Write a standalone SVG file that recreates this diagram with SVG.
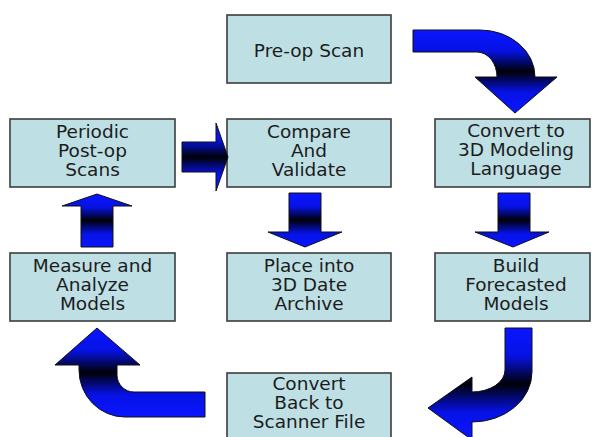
<svg xmlns="http://www.w3.org/2000/svg" width="592" height="437" viewBox="0 0 592 437">
  <defs>
    <linearGradient id="blueBand" x1="0" y1="0" x2="0" y2="1">
      <stop offset="0" stop-color="#0a16ff"/>
      <stop offset="0.25" stop-color="#0612e4"/>
      <stop offset="0.5" stop-color="#000006"/>
      <stop offset="0.75" stop-color="#0612e4"/>
      <stop offset="1" stop-color="#0a16ff"/>
    </linearGradient>
  </defs>
  <style>
    .box { fill: #bee0e5; stroke: #3c3c3c; stroke-width: 1.6; }
    .lbl { font-family: "DejaVu Sans", "Liberation Sans", sans-serif; font-size: 18.5px; fill: #1c1c1c; text-anchor: middle; }
    .arrow { fill: url(#blueBand); stroke: #111; stroke-width: 1; stroke-linejoin: miter; }
  </style>
  <rect width="592" height="437" fill="#ffffff"/>

  <g id="pre-op-scan">
    <rect class="box" x="227" y="15" width="164" height="68"/>
    <text class="lbl" x="309" y="57">Pre-op Scan</text>
  </g>

  <g id="periodic-scans">
    <rect class="box" x="10" y="119" width="165" height="68"/>
    <text class="lbl" x="92.5" y="138">Periodic</text>
    <text class="lbl" x="92.5" y="157">Post-op</text>
    <text class="lbl" x="92.5" y="176">Scans</text>
  </g>

  <g id="compare-validate">
    <rect class="box" x="227" y="119" width="164" height="68"/>
    <text class="lbl" x="309" y="138">Compare</text>
    <text class="lbl" x="309" y="157">And</text>
    <text class="lbl" x="309" y="176">Validate</text>
  </g>

  <g id="convert-3d">
    <rect class="box" x="435" y="119" width="155" height="68"/>
    <text class="lbl" x="516" y="137">Convert to</text>
    <text class="lbl" x="516" y="156">3D Modeling</text>
    <text class="lbl" x="516" y="175">Language</text>
  </g>

  <g id="measure-analyze">
    <rect class="box" x="10" y="253" width="165" height="68"/>
    <text class="lbl" x="92.5" y="272">Measure and</text>
    <text class="lbl" x="92.5" y="291">Analyze</text>
    <text class="lbl" x="92.5" y="310">Models</text>
  </g>

  <g id="place-archive">
    <rect class="box" x="227" y="253" width="164" height="68"/>
    <text class="lbl" x="309" y="272">Place into</text>
    <text class="lbl" x="309" y="291">3D Date</text>
    <text class="lbl" x="309" y="310">Archive</text>
  </g>

  <g id="build-models">
    <rect class="box" x="435" y="253" width="155" height="68"/>
    <text class="lbl" x="516" y="272">Build</text>
    <text class="lbl" x="516" y="291">Forecasted</text>
    <text class="lbl" x="516" y="310">Models</text>
  </g>

  <g id="convert-back">
    <rect class="box" x="227" y="373" width="164" height="72"/>
    <text class="lbl" x="309" y="390">Convert</text>
    <text class="lbl" x="309" y="409">Back to</text>
    <text class="lbl" x="309" y="428">Scanner File</text>
  </g>

  <g id="connectors">
    <!-- Pre-op Scan to Convert to 3D: bent arrow turning down -->
    <path class="arrow" d="M413,30 L480,30 A55,47 0 0 1 535,77 L557,77 L515,113 L475,77 L497,77 A20,25 0 0 0 477,52 L413,52 Z"/>
    <!-- Periodic scans to Compare -->
    <path class="arrow" d="M182,142 L216,142 L216,123 L228,157 L216,191 L216,172 L182,172 Z"/>
    <!-- Compare down to Archive -->
    <path class="arrow" d="M289,193 L321,193 L321,232 L342,232 L305,247 L268,232 L289,232 Z"/>
    <!-- Convert to 3D down to Build -->
    <path class="arrow" d="M498,193 L530,193 L530,232 L549,232 L513,247 L475,232 L498,232 Z"/>
    <!-- Measure up to Periodic scans -->
    <path class="arrow" d="M81,247 L81,206 L62,206 L97,194 L132,206 L113,206 L113,247 Z"/>
    <!-- Build down and round to Convert Back -->
    <path class="arrow" d="M505,328 L532,328 L532,372 A60,50 0 0 1 472,422 L472,440 L428,408 L472,377 L472,392 A33,22 0 0 0 505,370 Z"/>
    <!-- Convert Back round and up to Measure -->
    <path class="arrow" d="M205,392 L205,417 L125,417 A46,47 0 0 1 79,370 L79,365 L55,365 L97,328 L140,365 L117,365 L117,375 A17,17 0 0 0 134,392 Z"/>
  </g>
</svg>
